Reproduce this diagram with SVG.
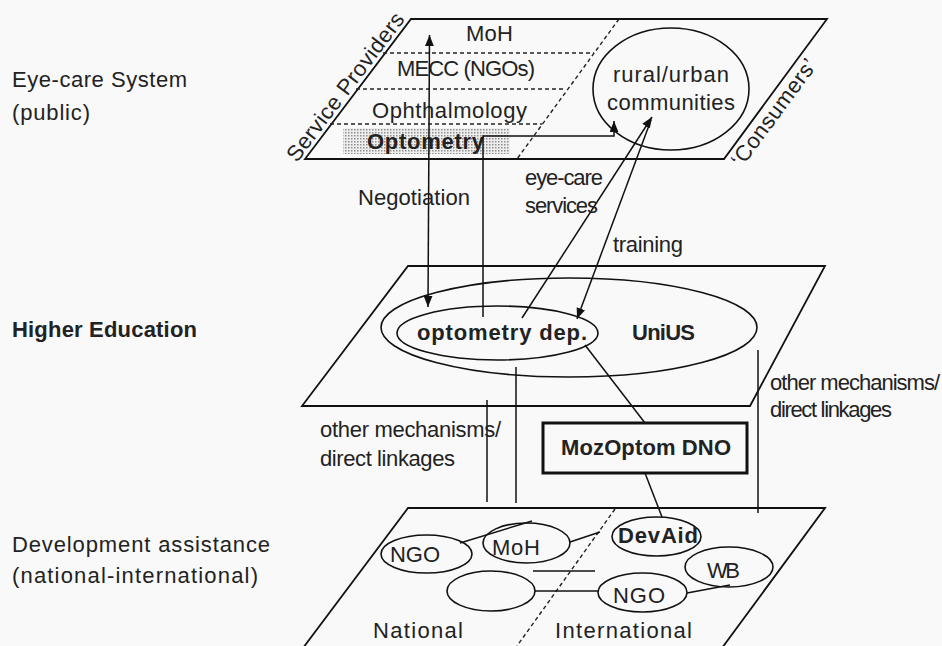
<svg xmlns="http://www.w3.org/2000/svg" width="942" height="646" viewBox="0 0 942 646">
  <defs>
    <marker id="arrow" viewBox="0 0 10 8" refX="10" refY="4" markerWidth="11" markerHeight="9" markerUnits="userSpaceOnUse" orient="auto-start-reverse">
      <path d="M0,0 L10,4 L0,8 z" fill="#111"/>
    </marker>
    <pattern id="dots" width="3" height="3" patternUnits="userSpaceOnUse">
      <rect width="3" height="3" fill="#eeeeee"/>
      <rect x="0" y="0" width="1.5" height="1.5" fill="#8f8f8f"/>
    </pattern>
    <style>
      text { font-family: "Liberation Sans", Arial, sans-serif; font-size: 22px; fill: #222; }
      .b { font-weight: bold; }
      .plane { fill: none; stroke: #111; stroke-width: 1.8; }
      .dash { fill: none; stroke: #222; stroke-width: 1.4; stroke-dasharray: 4 3; }
      .el { fill: none; stroke: #111; stroke-width: 1.6; }
      .ln { fill: none; stroke: #111; stroke-width: 1.5; }
      .box { fill: none; stroke: #111; stroke-width: 3; }
      .mid { text-anchor: middle; }
    </style>
  </defs>

  <rect width="942" height="646" fill="#f9f9fa"/>

  <!-- level captions on the left -->
  <g id="captions">
    <text x="12" y="87" textLength="175" lengthAdjust="spacing">Eye-care System</text>
    <text x="12" y="120" textLength="78" lengthAdjust="spacing">(public)</text>
    <text class="b" x="12" y="337" textLength="185" lengthAdjust="spacing">Higher Education</text>
    <text x="12" y="552" textLength="258" lengthAdjust="spacing">Development assistance</text>
    <text x="12" y="583" textLength="246" lengthAdjust="spacing">(national-international)</text>
  </g>

  <!-- top plane: public eye-care system -->
  <g id="plane-eyecare">
    <rect x="343" y="128" width="167" height="26" fill="url(#dots)"/>
    <polygon class="plane" points="411,19 827,19 724,159 305,159"/>
    <line class="dash" x1="619" y1="19" x2="517" y2="159"/>
    <line class="dash" x1="383" y1="53" x2="594" y2="53"/>
    <line class="dash" x1="356" y1="89" x2="566" y2="89"/>
    <line class="dash" x1="330" y1="124" x2="542" y2="124"/>
    <text transform="translate(358,89) rotate(-52.9)" x="-6" y="-4" class="mid" textLength="180" lengthAdjust="spacing">Service Providers</text>
    <text transform="translate(775.5,89) rotate(-53.6)" x="-20" y="20" class="mid" textLength="128" lengthAdjust="spacing">‘Consumers’</text>
  </g>
  <g id="node-moh-top">
    <text x="466" y="41" textLength="47" lengthAdjust="spacing">MoH</text>
  </g>
  <g id="node-mecc">
    <text x="397" y="76" textLength="138" lengthAdjust="spacing">MECC (NGOs)</text>
  </g>
  <g id="node-ophthalmology">
    <text x="372" y="118" textLength="155" lengthAdjust="spacing">Ophthalmology</text>
  </g>
  <g id="node-optometry">
    <text class="b" x="367" y="149" textLength="117" lengthAdjust="spacing">Optometry</text>
  </g>
  <g id="node-communities">
    <ellipse class="el" cx="671" cy="89" rx="78" ry="61"/>
    <text x="613" y="82" textLength="116" lengthAdjust="spacing">rural/urban</text>
    <text x="607" y="110" textLength="128" lengthAdjust="spacing">communities</text>
  </g>

  <!-- middle plane: higher education -->
  <g id="plane-higher-ed">
    <polygon class="plane" points="408,266 825,266 750,406 302,406"/>
  </g>
  <g id="node-unius">
    <ellipse class="el" cx="569" cy="327.5" rx="188" ry="49.5"/>
    <text class="b" x="632" y="340" textLength="63" lengthAdjust="spacing">UniUS</text>
  </g>
  <g id="node-optometry-dep">
    <ellipse class="el" cx="497.5" cy="333" rx="100.5" ry="27"/>
    <text class="b" x="417" y="340" textLength="170" lengthAdjust="spacing">optometry dep.</text>
  </g>

  <g id="node-mozoptom">
    <rect class="box" x="543" y="423" width="204" height="50"/>
    <text class="b" x="561" y="455" textLength="170" lengthAdjust="spacing">MozOptom DNO</text>
  </g>

  <!-- bottom plane: development assistance -->
  <g id="plane-devaid">
    <polygon class="plane" points="408,508 825,508 722,648 303,648"/>
    <line class="dash" x1="615" y1="509" x2="517" y2="646"/>
    <text x="373" y="638" textLength="90" lengthAdjust="spacing">National</text>
    <text x="555" y="638" textLength="137" lengthAdjust="spacing">International</text>
  </g>
  <g id="node-ngo-national">
    <ellipse class="el" cx="426.5" cy="554" rx="45.5" ry="19"/>
    <text x="390" y="562" textLength="50" lengthAdjust="spacing">NGO</text>
  </g>
  <g id="node-moh-national">
    <ellipse class="el" cx="526.5" cy="543" rx="43.5" ry="20"/>
    <text x="492" y="555" textLength="48" lengthAdjust="spacing">MoH</text>
  </g>
  <g id="node-blank-national">
    <ellipse class="el" cx="491" cy="591" rx="44" ry="20"/>
  </g>
  <g id="node-devaid">
    <ellipse class="el" cx="656.5" cy="536.5" rx="44.5" ry="19.5"/>
    <text class="b" x="618" y="543" textLength="80" lengthAdjust="spacing">DevAid</text>
  </g>
  <g id="node-ngo-international">
    <ellipse class="el" cx="642.5" cy="592.5" rx="44.5" ry="19.5"/>
    <text x="613" y="603" textLength="52" lengthAdjust="spacing">NGO</text>
  </g>
  <g id="node-wb">
    <ellipse class="el" cx="729" cy="567" rx="44" ry="20"/>
    <text x="707" y="578" textLength="33" lengthAdjust="spacing">WB</text>
  </g>

  <!-- connectors -->
  <g id="connectors">
    <line class="ln" x1="429.5" y1="35" x2="428" y2="307" marker-start="url(#arrow)" marker-end="url(#arrow)"/>
    <polyline class="ln" points="483,317 483,136 614,136 614,121" marker-end="url(#arrow)"/>
    <line class="ln" x1="522" y1="318" x2="652" y2="117" marker-end="url(#arrow)"/>
    <line class="ln" x1="651" y1="120" x2="577" y2="319" marker-end="url(#arrow)"/>
    <line class="ln" x1="585" y1="345" x2="645" y2="423"/>
    <line class="ln" x1="645" y1="473" x2="662" y2="517"/>
    <line class="ln" x1="516" y1="367" x2="516" y2="503"/>
    <line class="ln" x1="487" y1="400" x2="487" y2="502"/>
    <line class="ln" x1="758" y1="350" x2="758" y2="513"/>
    <line class="ln" x1="460" y1="543" x2="532" y2="521"/>
    <line class="ln" x1="570" y1="542" x2="600" y2="532"/>
    <line class="ln" x1="533" y1="571" x2="595" y2="571"/>
    <line class="ln" x1="535" y1="591" x2="598" y2="591"/>
    <line class="ln" x1="687" y1="593" x2="730" y2="585"/>
  </g>

  <!-- connector labels -->
  <g id="connector-labels">
    <text x="358" y="205" textLength="112" lengthAdjust="spacing">Negotiation</text>
    <text x="525" y="185" textLength="78" lengthAdjust="spacing">eye-care</text>
    <text x="525" y="213" textLength="73" lengthAdjust="spacing">services</text>
    <text x="613" y="252" textLength="70" lengthAdjust="spacing">training</text>
    <text x="320" y="437" textLength="181" lengthAdjust="spacing">other mechanisms/</text>
    <text x="320" y="466" textLength="135" lengthAdjust="spacing">direct linkages</text>
    <text x="770" y="390" textLength="170" lengthAdjust="spacing">other mechanisms/</text>
    <text x="770" y="417" textLength="122" lengthAdjust="spacing">direct linkages</text>
  </g>
</svg>
